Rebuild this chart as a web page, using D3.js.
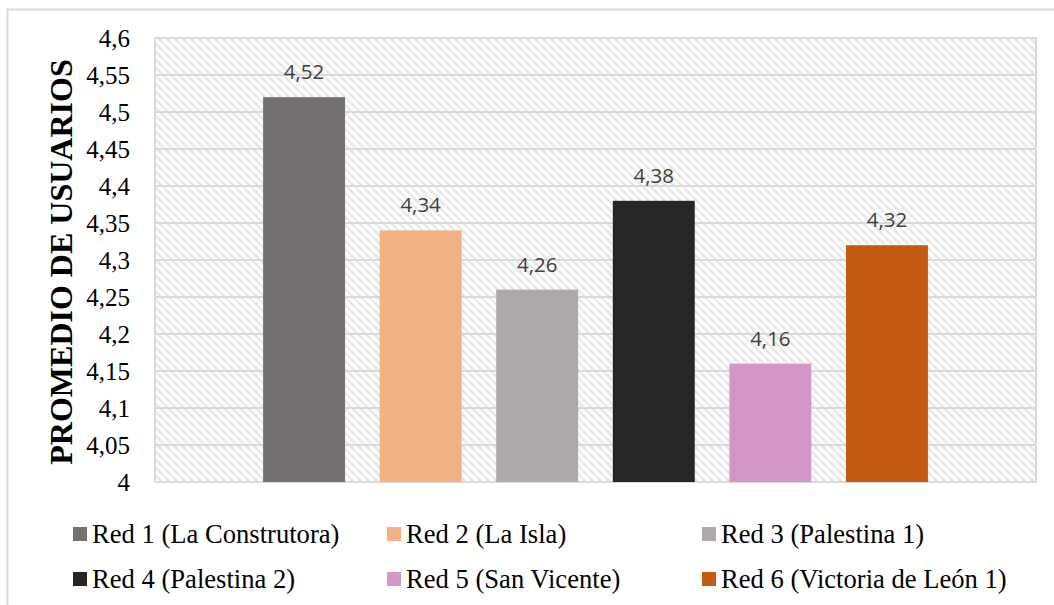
<!DOCTYPE html>
<html>
<head>
<meta charset="utf-8">
<script src="https://cdn.jsdelivr.net/npm/d3@7"></script>
<style>
  html, body { margin: 0; padding: 0; background: #fff; }
  svg { display: block; }
</style>
</head>
<body>
<svg id="chart" width="1054" height="605"></svg>
<script>
// Average user rating per network
const series = [
  "Red 1 (La Construtora)",
  "Red 2 (La Isla)",
  "Red 3 (Palestina 1)",
  "Red 4 (Palestina 2)",
  "Red 5 (San Vicente)",
  "Red 6 (Victoria de León 1)"
];
const values = [4.52, 4.34, 4.26, 4.38, 4.16, 4.32];
const valueLabels = ["4,52", "4,34", "4,26", "4,38", "4,16", "4,32"];
const colors = ["#767171", "#F4B183", "#AEAAAA", "#262626", "#D396C7", "#C55A11"];
const tickValues = [4, 4.05, 4.1, 4.15, 4.2, 4.25, 4.3, 4.35, 4.4, 4.45, 4.5, 4.55, 4.6];
const tickLabels = ["4", "4,05", "4,1", "4,15", "4,2", "4,25", "4,3", "4,35", "4,4", "4,45", "4,5", "4,55", "4,6"];
const axisTitle = "PROMEDIO DE USUARIOS";

const svg = d3.select("#chart");
const plot = { left: 155, right: 1036, top: 38, bottom: 482 };

// Outer frame
svg.append("rect")
  .attr("x", 7.5).attr("y", 9.5)
  .attr("width", 1060).attr("height", 610)
  .attr("fill", "#fff")
  .attr("stroke", "#d9d9d9").attr("stroke-width", 2);

// Diagonal hatch fill for the plot area
const defs = svg.append("defs");
const pat = defs.append("pattern")
  .attr("id", "hatch")
  .attr("patternUnits", "userSpaceOnUse")
  .attr("width", 8).attr("height", 8);
pat.append("rect").attr("width", 8).attr("height", 8).attr("fill", "#fff");
pat.append("path")
  .attr("d", "M0,0 L8,8 M-4,4 L4,12 M4,-4 L12,4")
  .attr("stroke", "#dedede")
  .attr("stroke-width", 2.6)
  .attr("stroke-dasharray", "1.5,0.9");

svg.append("rect")
  .attr("x", plot.left).attr("y", plot.top)
  .attr("width", plot.right - plot.left).attr("height", plot.bottom - plot.top)
  .attr("fill", "url(#hatch)");

const y = d3.scaleLinear().domain([4, 4.6]).range([plot.bottom, plot.top]);
const x = d3.scaleBand()
  .domain(series)
  .range([plot.left, plot.right])
  .paddingInner(0.297)
  .paddingOuter(0.927);

// Gridlines
svg.append("g")
  .selectAll("line")
  .data(tickValues)
  .join("line")
  .attr("x1", plot.left).attr("x2", plot.right)
  .attr("y1", d => y(d)).attr("y2", d => y(d))
  .attr("stroke", "#d9d9d9")
  .attr("stroke-width", 2);

// Plot area border
svg.append("rect")
  .attr("x", plot.left).attr("y", plot.top)
  .attr("width", plot.right - plot.left).attr("height", plot.bottom - plot.top)
  .attr("fill", "none")
  .attr("stroke", "#d9d9d9").attr("stroke-width", 2);

// Y axis
const yAxis = d3.axisLeft(y)
  .tickValues(tickValues)
  .tickFormat((d, i) => tickLabels[i])
  .tickSize(0)
  .tickPadding(25);
const gy = svg.append("g")
  .attr("transform", `translate(${plot.left},0)`)
  .call(yAxis);
gy.select(".domain").remove();
gy.selectAll("text")
  .attr("font-family", "'Liberation Serif', 'Times New Roman', serif")
  .attr("font-size", 25)
  .attr("fill", "#000");

// Axis title
svg.append("text")
  .attr("transform", `translate(72,262) rotate(-90)`)
  .attr("text-anchor", "middle")
  .attr("font-family", "'Liberation Serif', 'Times New Roman', serif")
  .attr("font-weight", "bold")
  .attr("font-size", 32)
  .attr("fill", "#000")
  .text(axisTitle);

// Bars
svg.append("g")
  .selectAll("rect")
  .data(values)
  .join("rect")
  .attr("x", (d, i) => x(series[i]))
  .attr("y", d => y(d))
  .attr("width", x.bandwidth())
  .attr("height", d => y(4) - y(d))
  .attr("fill", (d, i) => colors[i]);

// Value labels
svg.append("g")
  .selectAll("text")
  .data(values)
  .join("text")
  .attr("x", (d, i) => x(series[i]) + x.bandwidth() / 2)
  .attr("y", d => y(d) - 18)
  .attr("text-anchor", "middle")
  .attr("font-family", "'Open Sans', 'Liberation Sans', sans-serif")
  .attr("font-size", 20.5)
  .attr("fill", "#404040")
  .text((d, i) => valueLabels[i]);

// Legend (3 columns x 2 rows)
const legendCols = [73, 387, 702];
const legendRows = [543, 588];
const lg = svg.append("g")
  .selectAll("g")
  .data(series)
  .join("g")
  .attr("transform", (d, i) => `translate(${legendCols[i % 3]},${legendRows[Math.floor(i / 3)]})`);
lg.append("rect")
  .attr("x", 0).attr("y", -16)
  .attr("width", 14).attr("height", 14)
  .attr("fill", (d, i) => colors[i]);
lg.append("text")
  .attr("x", 19).attr("y", 0)
  .attr("font-family", "'Liberation Serif', 'Times New Roman', serif")
  .attr("font-size", 26.6)
  .attr("fill", "#000")
  .text(d => d);
</script>
</body>
</html>
